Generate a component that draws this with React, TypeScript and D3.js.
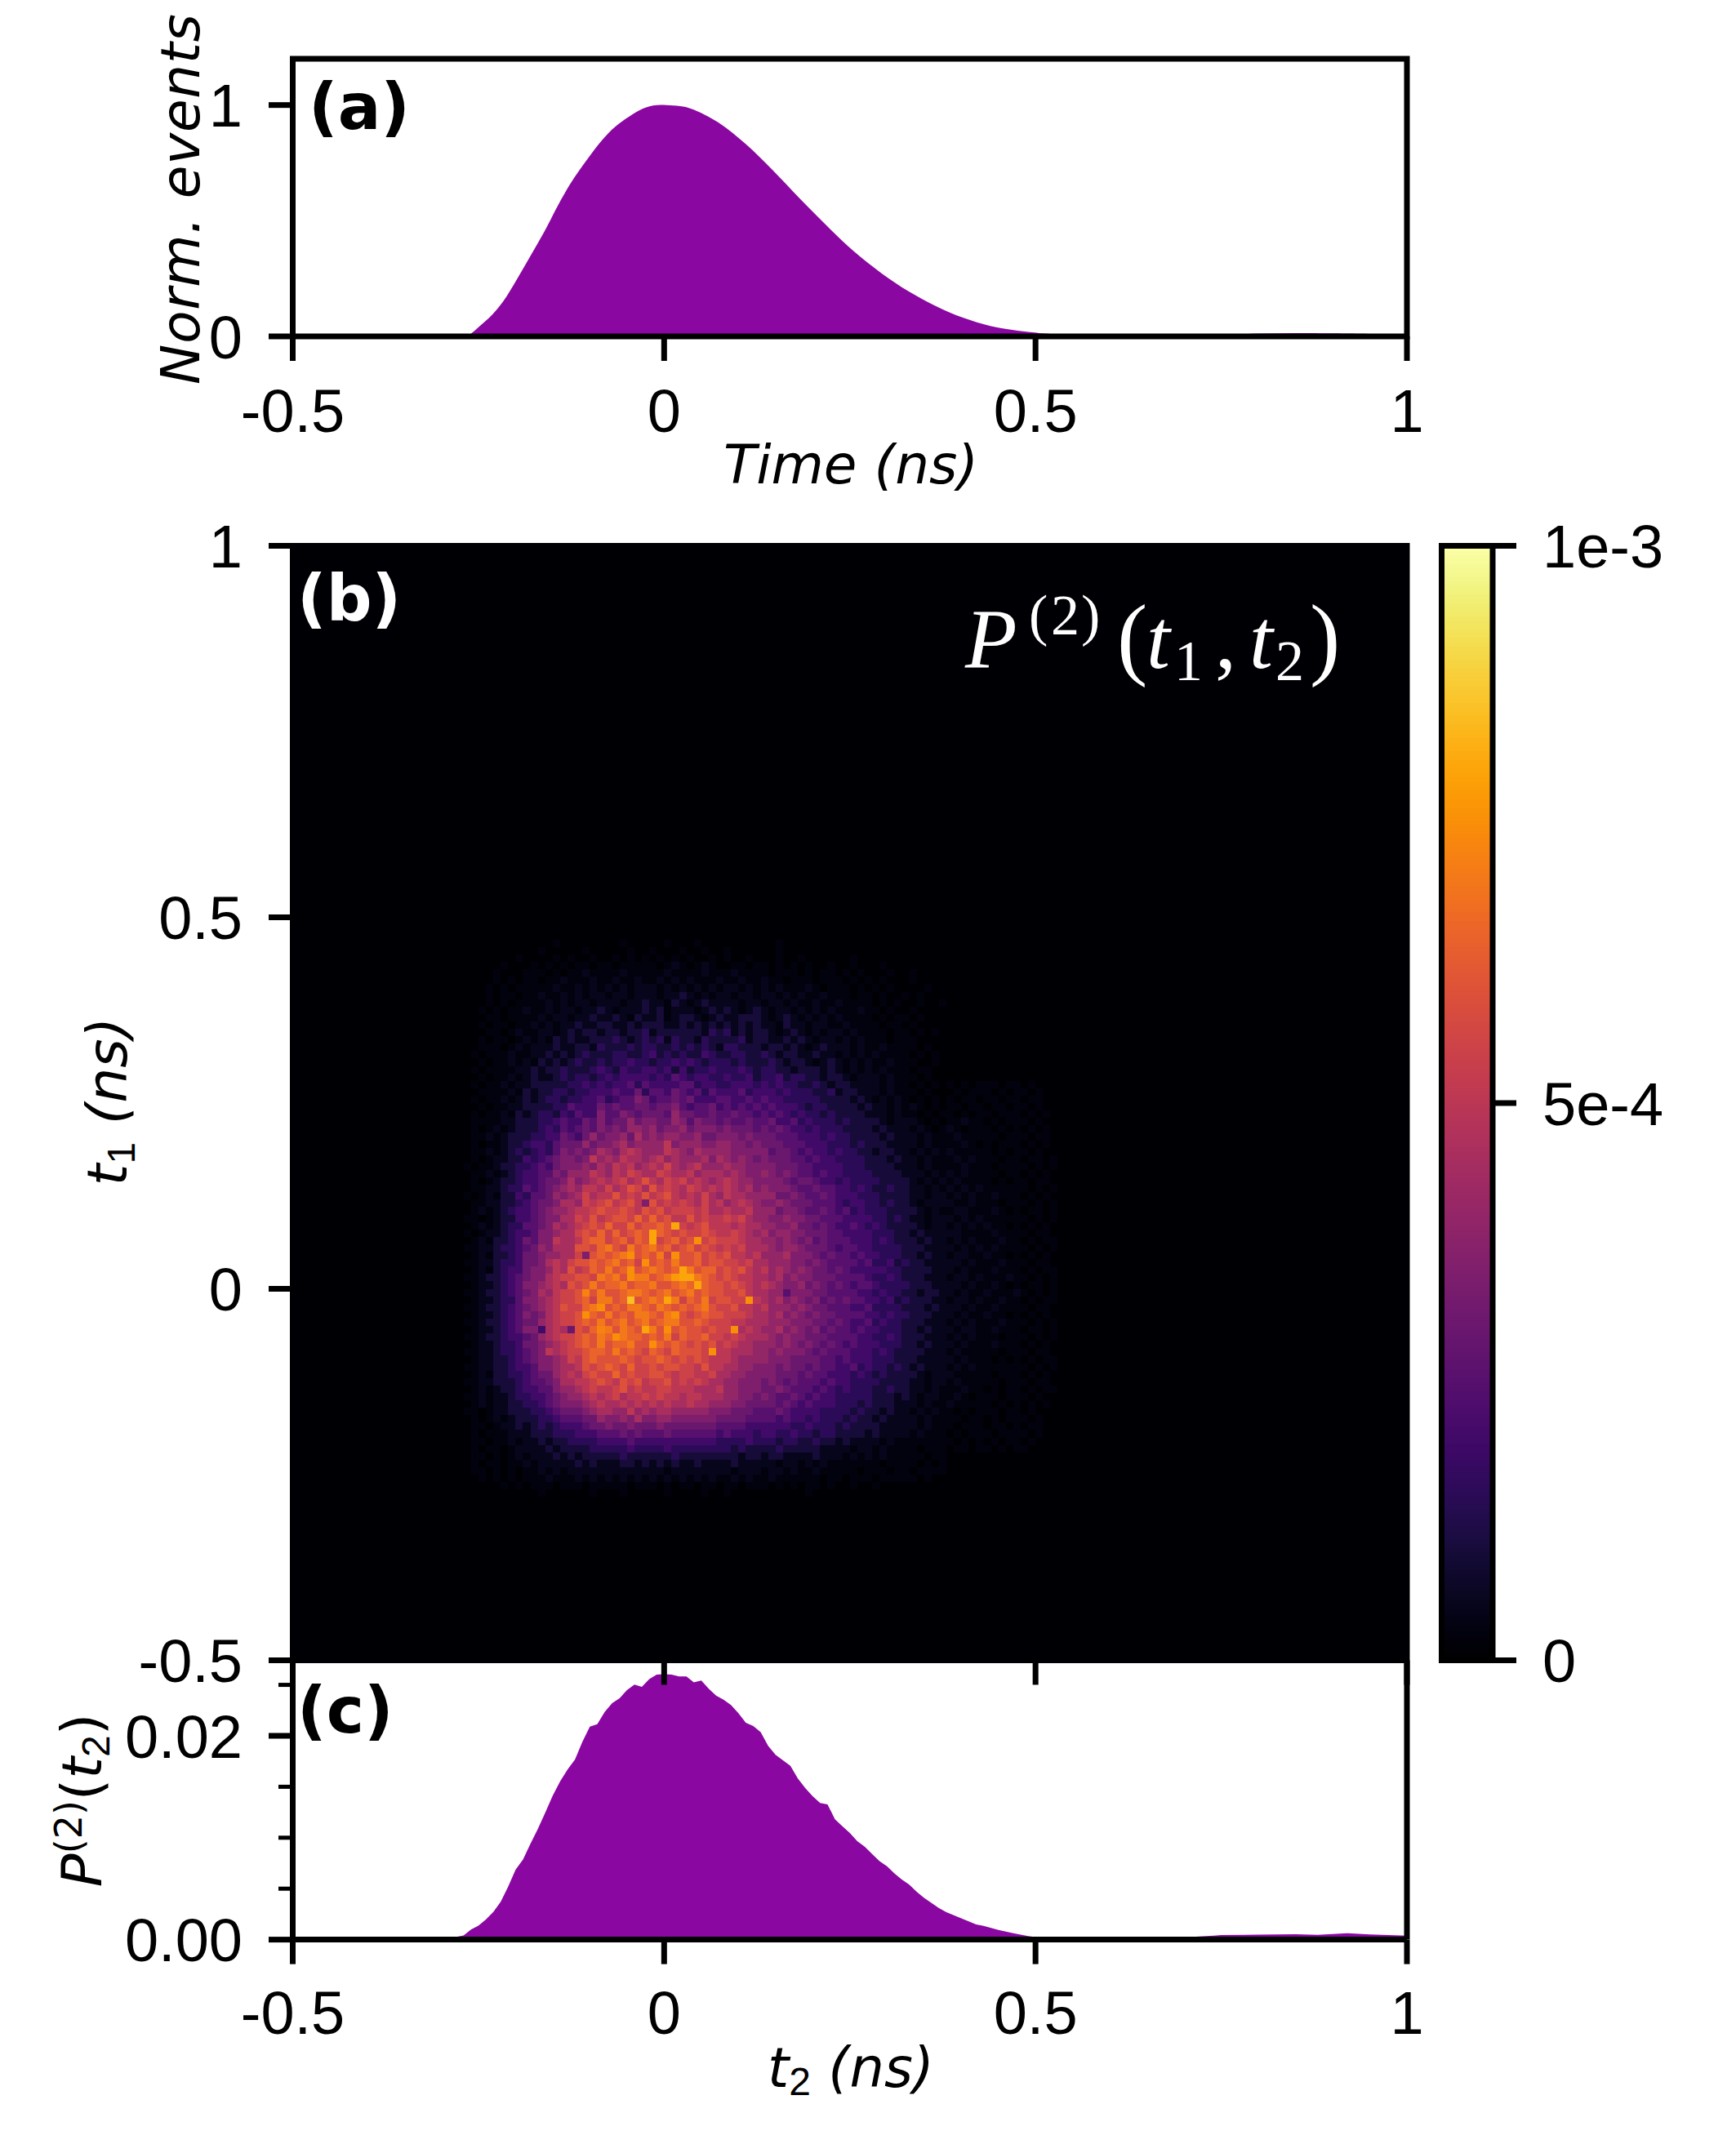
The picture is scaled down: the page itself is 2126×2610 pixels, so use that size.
import * as d3 from 'd3';

// Panel (a): normalized pulse
const pulseTimes = [-0.264, -0.249, -0.231, -0.216, -0.198, -0.18, -0.161, -0.143, -0.125, -0.106, -0.088, -0.07, -0.051, -0.033, -0.015, 0.0035, 0.0215, 0.0365, 0.073, 0.11, 0.146, 0.183, 0.219, 0.256, 0.293, 0.329, 0.366, 0.403, 0.439, 0.476, 0.513, 0.55, 0.65, 0.7, 0.75, 0.8, 0.85, 0.9, 1];
const pulseValues = [0, 0.042, 0.095, 0.154, 0.248, 0.348, 0.454, 0.566, 0.666, 0.754, 0.831, 0.895, 0.942, 0.978, 0.998, 1, 0.995, 0.984, 0.925, 0.831, 0.719, 0.595, 0.478, 0.366, 0.272, 0.195, 0.131, 0.08, 0.045, 0.025, 0.012, 0.004, 0.001, 0.002, 0.006, 0.012, 0.014, 0.013, 0.008];

// Panel (c): marginal, in units of 1e-3. First list is on 0.01 ns bins from -0.28
const marginalBins = [
  0.26, 0.4, 0.98, 1.38, 1.97, 2.72, 3.71, 5.2, 6.86, 7.87,
  9.4, 10.87, 12.47, 14.12, 15.54, 16.69, 17.68, 19.42, 20.9, 21.15,
  22.35, 23.2, 23.69, 24.49, 25.02, 24.81, 25.56, 26.01, 26.04, 26.01,
  25.83, 25.83, 25.24, 25.42, 24.62, 23.95, 23.55, 23.02, 22.22, 21.28,
  20.96, 20.35, 19.01, 18.13, 17.6, 17.06, 15.81, 14.87, 14.07, 13.4,
  13.27, 11.8, 11.13, 10.46, 9.66, 9.13, 8.4, 7.7, 7.2, 6.5,
  5.9, 5.4, 4.7, 4.1, 3.6, 3.1, 2.7, 2.4, 2.1, 1.8,
  1.5, 1.35, 1.15, 0.95, 0.78, 0.62, 0.48, 0.35, 0.25, 0.17,
  0.1, 0.07, 0.05,
];
const marginalTailTimes = [0.6, 0.67, 0.7, 0.72, 0.74, 0.75, 0.8, 0.85, 0.88, 0.9, 0.92, 0.95, 1];
const marginalTailValues = [0.01, 0.06, 0.2, 0.3, 0.38, 0.45, 0.48, 0.52, 0.47, 0.55, 0.62, 0.5, 0.38];

// Panel (b): rows from t1 bin 96 downwards, columns from t2 bin 23, bins of 0.01 ns.
// One character per cell, base 20, in steps of 0.05e-3 ('.' is half a step).
const heatTopRow = 96;
const heatFirstCol = 23;
const heatRows = [
  '00000 00000 00.00 00000 0.000 00.00 0.000 00000 00.00 00000',
  '00000 00000 .0000 0.000 00.00 .000. 00.00 .0000 00.00 00000',
  '00000 00.00 00.0. 00.00 .0.0. 0.0.0 .00.0 .00.0 00.00 .0000 00.00',
  '00000 .000. 0.0.0 ..0.. 0.... .0.1. 0.1.0 0..0. .0.0. 0.00. 00.00 0.000',
  '0000. 000.. .0.0. .1... .1... ..1.. ..1.. .1... .0... 0.0.. 0.0.0 00.00 .0000',
  '0000. 0.0.. 0..1. ..1.. 1..1. .1.1. 1...1 ..1.. 1..0. ..0.. .0.0. 0.000 .0000',
  '000.0 .0... ..1.. 1.1.1 .1.11 1.1.1 .1.1. 11.1. 1.1.. .1.0. ..0.0 .0.00 00.00',
  '000.0 ..0.. 1..1. 1.11. 11.11 1.112 1.1.1 1.11. 11.1. 1..1. ..0.. 0.00. 0.000',
  '000.0 .0... .1.1. 11.11 1.112 11.21 .1211 11.11 .11.1 ..1.. 1.... 0.0.0 0.00.',
  '00.0. 0..1. .1.11 .1121 .1112 12.11 1.121 21.12 1.11. 1.1.1 ...1. .0.00 .0000',
  '000.. 0.... 1.11. 11211 21.21 12.12 21.12 11222 1.121 .1.1. 1.... 0.0.. 0.000',
  '00.0. .0..1 .1.11 21122 11212 22112 12121 21212 11.21 1.11. .1... .0..0 .0000',
  '000.. 0.1.. 11.12 12212 21223 12222 22132 31212 21.12 1.1.1 1.1.. ..0.. 0.0.0',
  '00.0. .0.1. 1.212 11222 32123 23132 21322 22312 21121 21.11 .1.1. ..0.. .0000',
  '00... 0.1.1 11211 22132 22323 32232 32321 33222 12212 1.121 11.1. .1... .0.00',
  '0.0.. .1..1 12121 23222 33223 42323 22432 23322 32122 11211 .1.1. 1.... 0.0.0',
  '00.0. .1.1. 21212 32232 33433 23343 43233 32322 23212 21.12 1.1.1 ..1.. .00.0',
  '0.0.. ..112 12232 22343 24334 43424 23343 33432 33221 22212 1.1.1 .1... 0..00',
  '00.0. .1.12 11232 33234 34444 34354 34433 43342 33423 32212 21.11 1.1.. .0.00',
  '0.0.. 1.112 22223 34343 44535 44445 53443 34443 43433 22321 22111 1.1.. 0.0.0',
  '00... .1.21 22332 33444 54463 55465 45354 44534 44343 33223 12211 1.1.. .0.00',
  '0.0.. 1.121 23323 34453 45576 45565 64445 54454 54433 33322 22121 .1.1. 0.0.0',
  '00.0. .1122 22335 44465 65566 56675 45564 54545 45444 32332 22212 11.1. 1.0.0',
  '0.0.. 1.212 33243 54475 57656 66586 65565 56554 54543 43323 22221 11.1. .0.0.',
  '0.... 11222 33454 46575 66867 76687 57665 65565 56445 34333 23222 21.11 1.0.0',
  '0.0.1 .1222 34354 56576 76887 86778 67776 76665 65654 43433 32222 12111 .1.0.',
  '0..1. 12223 34465 46867 78697 87887 78667 77676 66555 44434 33222 21211 1.1..',
  '0.0.. 12234 43566 68677 89788 88a78 88778 87767 66655 54443 33232 22111 1.1..',
  '0..1. 12323 43576 76798 79a98 88a98 79888 87777 75665 45443 43322 12211 .1.1.',
  '0.0.1 12243 45677 67a89 8a998 9a898 88979 87876 76665 54544 33332 22121 1.1..',
  '.0..1 22334 54677 78798 a9a89 a9b98 9a888 98877 77666 55444 43332 22211 1.1..',
  '0..1. 12344 55768 88a98 a9ba9 9ba99 a8999 89877 87676 55454 43333 22221 11.1.',
  '0.0.1 22344 56679 789a9 ab9ac a9bab 9a989 a9887 77765 66544 34333 32222 1.1.1',
  '0..11 23354 56789 8aa9b 9acb9 caba9 ba9a9 a9897 87776 55655 44343 22322 11.1.',
  '.0.1. 22435 56878 9b9aa cabac abca9 a9b98 a9988 88667 65565 44433 32222 11.11',
  '0..11 22345 66799 8babc abcab cabab a9b9a 89a98 77876 66555 43443 32322 1.111',
  '0.1.1 23445 67889 aabcb bcbac bcabb bab99 a99a8 88677 65565 45343 33222 21.1.',
  '..0.1 22445 67799 bacab ccbdb dbcaa cabaa bab98 87787 76655 54444 33232 11.11',
  '0.1.1 23355 67989 abcbd bbdbc cdcbb abcaa a9a99 88778 66565 44543 43222 21.11',
  '.0.11 23445 77899 bcbdb dbcdc cdcbc bbcba aba98 97887 76665 54444 33322 12111',
  '0.1.2 23465 77a99 acddb cdbdc dbcdb cbbcb bba99 88787 67565 55444 34322 21211',
  '..112 33456 87999 ccbde cbecd ecdbc dbcba bab99 98788 76665 45544 33332 22111',
  '0.1.2 23466 78899 bbcdc deccd cebdc cdbcb caa9a 88897 77656 55454 43332 21211',
  '..112 33466 79a9b ccdcd ecdbe cdcec cdbcc bbab9 98887 76765 55545 33423 22111',
  '0.1.2 34467 78a9c abdce cdecd edcdc ecddb cbca9 a8987 87665 65444 44332 22211',
  '..122 34567 79abb ccbed ecdee cdecd cedcb cbaa9 98978 77666 55554 33432 22111',
  '0.112 34577 89a9c bcecd decdd eccde dcdcc bcba9 a9877 86765 65455 43333 22211',
  '..122 34567 98abb cdcec cdeed cdecd ecdcc bbca9 98887 77665 55544 34332 21221',
  '0.112 33577 89abb cdbee cdecd edceb dcebc cbbaa 98978 76756 56554 43423 22211',
  '..122 34567 89acb bdeec dceed cedcd cdecb bcaa9 a8887 87665 55445 33332 22121',
  '0.112 34576 79abb cddce cdcee dcedc bcdcc bbba9 98978 76766 55554 43433 22211',
  '..122 34566 89abb cdcec decde cdeec cdcbb baa99 98887 77665 65445 34332 22111',
  '0.112 34577 79a9c cbdee cedcd ecdcd ccbcb ba9a9 88978 76756 55454 43332 21211',
  '..122 34456 89abb cdced ceddc dcebd ccdbb aba99 98787 76665 55544 33432 22111',
  '0.112 33466 789ab cdcec ddecc ddcdc bcbca ba998 88787 67656 54544 43332 21211',
  '..112 33456 7a9ab bcddc ecdcb dcbdc ccbba a9998 87877 76565 55444 34322 22111',
  '0.112 23456 7789b acdcc cdcbc cdcbc bcbaa a9888 87776 66655 45444 33322 21111',
  '..112 23445 77899 acbcd cbdbb cbccb bacaa 99887 77676 65655 44534 33232 12111',
  '0.1.2 23345 6689a 9bcbb dbcbb ccbab baab9 98877 77666 56554 44343 23222 21.11',
  '..112 22345 56799 aabcb acbca bbcab aba99 88777 67656 55545 44333 32222 11.11',
  '0.1.1 22344 55788 9abaa bcaba abbaa a999a 88777 66765 55454 34333 22322 11.1.',
  '..1.1 12334 45678 89a9a b9aab abaa9 aa999 88776 76556 54544 33333 22212 1.11.',
  '0.1.1 12233 45677 789a9 9a9a9 a9a99 a9988 87766 66565 45444 33323 22211 1.1..',
  '..0.1 12223 34566 67899 88a89 89988 88877 76665 55654 44433 33232 21211 .1.1.',
  '0.0.1 .1222 33455 56687 78797 78877 77776 66655 55454 43433 32322 12111 1.1..',
  '0..0. 11212 32344 45667 66766 67666 66665 55544 44443 34333 23222 21111 1.1..',
  '0.0.. .1112 22333 44455 56565 55655 55554 54443 44334 33233 22221 21111 .1...',
  '0..0. .1.11 21223 33344 44544 44444 44443 33343 33233 22322 12111 1.1.. .....',
  '0.0.. 0.111 12122 22333 33433 33433 33333 32322 22322 22211 11.11 .1... .0...',
  '0..0. 0.1.1 11212 12222 23222 22232 22222 22122 12211 11211 1.1.1 .1... ..0..',
  '0.0.. 0..1. 11111 21211 12212 12121 12111 12111 11.11 .1.1. ..... .0... .0.0.',
  '0..0. 0.0.. 1.1.1 11111 11111 11.11 11111 1.111 .11.1 ..1.. ...0. ..0.. 0....',
  '00.0. 0.0.. .1... 1.1.1 .1.1. 1.1.1 .1.1. .1.1. .1... ...0. .0... 0.... .0.00',
  '00000 .0.0. ..0.. .0... ..0.. .0.0. .0..0 ..0.. .0.0. 0..0. 00.00 .0000 00000',
  '00000 00000 .0000 00.00 0.000 00.00 00.00 .0000 00000 0.000 00000',
];

// Faint right edge of the blob: rows from t1 bin 77 down, columns from t2 bin 88
const fringeTopRow = 77;
const fringeFirstCol = 88;
const fringeRows = [
  '.0.0. ..0.. 0.000', '0.0.. .0.0. .0.00', '.0..0 ..0.. 0..00', '..0.. 0..0. .0.00', '.0.0. .0... 0.0.0', '..1.. 0.0.. .0.00',
  '1.0.. .0.0. 0.0.0', '.1... ..0.. .0..0', '..1.0 .0... 0.0.0', '1.... .0.0. .0.00', '.1.1. ..0.. 0..0.', '..1.. .0... .0.0.', '1.1.. ..0.. 0.0.0', '.1... .0.0. .0..0',
  '1.1.1 ..... .0.0.', '.1.1. .1... 0.0.0', '1..1. ..0.. .0.0.', '.11.. .1.0. 0..0.', '1.1.1 ..... .0.0.', '.1.1. 1..0. 0.0.0', '11... .1... .0..0', '.1.1. ..1.. 0.0..',
  '1.1.1 .1... .0.0.', '.11.. 1..0. 0.0.0', '11.1. ..1.. .0..0', '1.1.. .1... 0.0..', '.11.1 ...1. .0.0.', '11.1. .1.0. 0..0.', '1.1.. 1...1 .0.0.', '.11.1 ..1.. 0.0..',
  '11.1. .1... .0..0', '1.1.. 1..0. 0.0.0', '.1.1. ..1.. .0.0.', '1.11. .1... 0..0.', '.1.1. ..0.. .0.0.', '1.1.. .1... 0.0.0', '.1... ..0.. .0..0', '1.1.. .0.0. 0.0..',
  '.1.1. ..... .0.0.', '1.... .0... 0.0.0', '.1... ..0.. .0..0', '..1.. 0.0.. 0.0..', '.1.0. ..0.. .0.00', '1.... .0.0. 0.0.0',
  '.0.0. ..0.. 0.000', '..0.. 0.0.. .0.00', '.0... 0..0. 0..00', '0.0.. .0... .0.00', '.0.0. 0.0.. 0.000', '0..0. .0.0. .0000',
];

// Single cells that stand out in the picture: bin in t2, bin in t1, level
const spotCols = [45, 50, 48, 48, 51, 54, 52, 52, 51, 53, 45, 47, 51, 51, 47, 48, 50, 54, 56, 61, 59, 45, 45, 43, 41, 41, 39, 39, 37, 33, 66, 39, 47];
const spotRows = [48, 48, 57, 56, 58, 50, 52, 51, 51, 51, 54, 53, 54, 46, 44, 42, 44, 56, 41, 48, 44, 52, 51, 43, 44, 47, 46, 49, 44, 44, 49, 54, 61];
const spotLevels = [17, 16, 16, 16, 16, 16, 16, 16, 15.5, 16, 15, 15, 15, 15, 16, 15, 15, 15, 15, 15, 15, 15, 15, 15, 14.5, 15, 15, 14.5, 6, 4, 5, 7, 7];

const xTicks = [-0.5, 0, 0.5, 1];
const xTickLabels = ['-0.5', '0', '0.5', '1'];
const aTicks = [0, 1];
const bTicks = [-0.5, 0, 0.5, 1];
const bTickLabels = ['-0.5', '0', '0.5', '1'];
const cTicks = [0, 0.02];
const cTickLabels = ['0.00', '0.02'];
const cMinorTicks = [0.005, 0.01, 0.015, 0.025];
const barTicks = [0, 5e-4, 1e-3];
const barTickLabels = ['0', '5e-4', '1e-3'];

const WIDTH = 2126;
const HEIGHT = 2610;
const SANS = '"Liberation Sans", Arial, sans-serif';
const DEJAVU = '"DejaVu Sans", sans-serif';
const SERIF = '"Liberation Serif", serif';
const PURPLE = '#8a08a1';
const TICK_SIZE = 74;
const LW = 7;

const x = d3.scaleLinear().domain([-0.5, 1]).range([358.5, 1723]);
const yA = d3.scaleLinear().domain([0, 1.2]).range([412, 72]);
const yB = d3.scaleLinear().domain([-0.5, 1]).range([2033.5, 668.5]);
const yC = d3.scaleLinear().domain([0, 0.02713]).range([2375.6, 2037]);
const yBar = d3.scaleLinear().domain([0, 1e-3]).range([2033.5, 668.5]);
const xBarLeft = 1765.5;
const xBarRight = 1828;
const BIN = 0.01;
const LEVEL = 0.05e-3;

const color = (v: number) => d3.interpolateInferno(v / 1e-3);

// Tables to cells
const cells: { col: number; row: number; value: number }[] = [];
const filled = new Set<string>();
function addRows(rows: string[], topRow: number, firstCol: number) {
  rows.forEach((line, i) => {
    line.replace(/ /g, '').split('').forEach((c, j) => {
      const level = c === '.' ? 0.5 : parseInt(c, 20);
      const col = firstCol + j;
      const row = topRow - i;
      if (level > 0 && !filled.has(`${col}-${row}`)) {
        filled.add(`${col}-${row}`);
        cells.push({ col, row, value: level * LEVEL });
      }
    });
  });
}
addRows(heatRows, heatTopRow, heatFirstCol);
addRows(fringeRows, fringeTopRow, fringeFirstCol);
spotCols.forEach((col, i) => {
  const cell = cells.find(d => d.col === col && d.row === spotRows[i]);
  if (cell) cell.value = spotLevels[i] * LEVEL;
});

const pulse = pulseTimes.map((t, i) => [t, pulseValues[i]]);
const marginal = [
  ...marginalBins.map((v, i) => [-0.28 + i * BIN, v * 1e-3]),
  ...marginalTailTimes.map((t, i) => [t, marginalTailValues[i] * 1e-3]),
];

const pulseArea = d3.area<number[]>()
  .x(d => x(d[0]))
  .y0(yA(0))
  .y1(d => yA(d[1]))
  .curve(d3.curveCatmullRom.alpha(0.5));

const marginalArea = d3.area<number[]>()
  .x(d => x(d[0]))
  .y0(yC(0))
  .y1(d => yC(d[1]));

function XTicks({ y0, len, labelY }: { y0: number; len: number; labelY?: number }) {
  return (
    <g>
      {xTicks.map((t, i) => (
        <g key={t}>
          <line x1={x(t)} x2={x(t)} y1={y0} y2={y0 + len} stroke="#000" strokeWidth={LW} />
          {labelY !== undefined && (
            <text x={x(t)} y={labelY} textAnchor="middle" fontFamily={SANS} fontSize={TICK_SIZE}>{xTickLabels[i]}</text>
          )}
        </g>
      ))}
    </g>
  );
}

function YTicks({ scale, ticks, labels }: { scale: (v: number) => number; ticks: number[]; labels: string[] }) {
  return (
    <g>
      {ticks.map((t, i) => (
        <g key={t}>
          <line x1={329} x2={358.5} y1={scale(t)} y2={scale(t)} stroke="#000" strokeWidth={LW} />
          <text x={297} y={scale(t)} dy="0.36em" textAnchor="end" fontFamily={SANS} fontSize={TICK_SIZE}>{labels[i]}</text>
        </g>
      ))}
    </g>
  );
}

export default function App() {
  return (
    <svg width={WIDTH} height={HEIGHT} style={{ position: 'absolute', left: 0, top: 0, background: '#fff' }}>
      {/* (a) */}
      <path d={pulseArea(pulse) ?? ''} fill={PURPLE} />
      <rect x={x(-0.5)} y={yA(1.2)} width={x(1) - x(-0.5)} height={yA(0) - yA(1.2)} fill="none" stroke="#000" strokeWidth={LW} />
      <XTicks y0={yA(0)} len={30} labelY={529} />
      <YTicks scale={yA} ticks={aTicks} labels={['0', '1']} />
      <text x={1042} y={592} textAnchor="middle" fontFamily={DEJAVU} fontStyle="italic" fontSize={66}>Time (ns)</text>
      <text transform="translate(244,471) rotate(-90)" textLength={454} lengthAdjust="spacing" fontFamily={DEJAVU} fontStyle="italic" fontSize={66}>Norm. events</text>
      <text x={378} y={158} fontFamily={DEJAVU} fontWeight="bold" fontSize={78}>(a)</text>

      {/* (b) */}
      <rect x={x(-0.5)} y={yB(1)} width={x(1) - x(-0.5)} height={yB(-0.5) - yB(1)} fill={color(0)} />
      <g shapeRendering="crispEdges">
        {cells.map(d => {
          const t2 = -0.5 + d.col * BIN;
          const t1 = -0.5 + d.row * BIN;
          return (
            <rect key={`${d.col}-${d.row}`} x={x(t2)} y={yB(t1 + BIN)} width={x(t2 + BIN) - x(t2)} height={yB(t1) - yB(t1 + BIN)} fill={color(d.value)} />
          );
        })}
      </g>
      <rect x={x(-0.5)} y={yB(1)} width={x(1) - x(-0.5)} height={yB(-0.5) - yB(1)} fill="none" stroke={color(0)} strokeWidth={LW} />
      <YTicks scale={yB} ticks={bTicks} labels={bTickLabels} />
      <text transform="translate(155,1349) rotate(-90)" textAnchor="middle" fontFamily={DEJAVU} fontSize={68}>
        <tspan fontStyle="italic">t</tspan>
        <tspan fontFamily={SANS} fontSize={48} dy={10}>1</tspan>
        <tspan fontStyle="italic" dy={-10}> (ns)</tspan>
      </text>
      <text x={364} y={760} fill="#fff" fontFamily={DEJAVU} fontWeight="bold" fontSize={78}>(b)</text>
      <g fill="#fff" fontFamily={SERIF}>
        <text x={1182} y={818} fontStyle="italic" fontSize={104}>P</text>
        <text x={1260} y={777} fontSize={70}>(</text>
        <text x={1287} y={777} fontSize={70}>2</text>
        <text x={1324} y={777} fontSize={70}>)</text>
        <text x={1368} y={818} fontSize={112}>(</text>
        <text x={1404} y={818} fontStyle="italic" fontSize={104}>t</text>
        <text x={1438} y={833} fontSize={70}>1</text>
        <text x={1488} y={818} fontSize={104}>,</text>
        <text x={1530} y={818} fontStyle="italic" fontSize={104}>t</text>
        <text x={1562} y={833} fontSize={70}>2</text>
        <text x={1604} y={818} fontSize={112}>)</text>
      </g>

      {/* colour bar */}
      <g shapeRendering="crispEdges">
        {d3.range(256).map(i => (
          <rect key={i} x={xBarLeft} width={xBarRight - xBarLeft} y={yBar(((i + 1) / 256) * 1e-3)} height={yBar((i / 256) * 1e-3) - yBar(((i + 1) / 256) * 1e-3) + 1} fill={d3.interpolateInferno(i / 255)} />
        ))}
      </g>
      <rect x={xBarLeft} y={yBar(1e-3)} width={xBarRight - xBarLeft} height={yBar(0) - yBar(1e-3)} fill="none" stroke="#000" strokeWidth={LW} />
      {barTicks.map((t, i) => (
        <g key={t}>
          <line x1={xBarRight} x2={1857} y1={yBar(t)} y2={yBar(t)} stroke="#000" strokeWidth={LW} />
          <text x={1889} y={yBar(t)} dy="0.36em" fontFamily={SANS} fontSize={TICK_SIZE}>{barTickLabels[i]}</text>
        </g>
      ))}

      {/* (c) */}
      <path d={marginalArea(marginal as number[][]) ?? ''} fill={PURPLE} />
      <line x1={x(-0.5)} x2={x(-0.5)} y1={2037} y2={yC(0)} stroke="#000" strokeWidth={LW} />
      <line x1={x(1)} x2={x(1)} y1={2037} y2={yC(0)} stroke="#000" strokeWidth={LW} />
      <line x1={x(-0.5)} x2={x(1)} y1={yC(0)} y2={yC(0)} stroke="#000" strokeWidth={LW} />
      <XTicks y0={yB(-0.5)} len={30} />
      <XTicks y0={yC(0)} len={30} labelY={2491} />
      <YTicks scale={yC} ticks={cTicks} labels={cTickLabels} />
      {cMinorTicks.map(t => (
        <line key={t} x1={341} x2={358.5} y1={yC(t)} y2={yC(t)} stroke="#000" strokeWidth={5} />
      ))}
      <text transform="translate(124,2205) rotate(-90)" textAnchor="middle" fontFamily={DEJAVU} fontSize={68}>
        <tspan fontStyle="italic">P</tspan>
        <tspan fontSize={46} dy={-24}>(2)</tspan>
        <tspan dy={24}>(</tspan>
        <tspan fontStyle="italic">t</tspan>
        <tspan fontFamily={SANS} fontSize={48} dy={10}>2</tspan>
        <tspan dy={-10}>)</tspan>
      </text>
      <text x={1042} y={2556} textAnchor="middle" fontFamily={DEJAVU} fontSize={67}>
        <tspan fontStyle="italic">t</tspan>
        <tspan fontFamily={SANS} fontSize={48} dy={10}>2</tspan>
        <tspan fontStyle="italic" dy={-10}> (ns)</tspan>
      </text>
      <text x={364} y={2122} fontFamily={DEJAVU} fontWeight="bold" fontSize={78}>(c)</text>
    </svg>
  );
}
